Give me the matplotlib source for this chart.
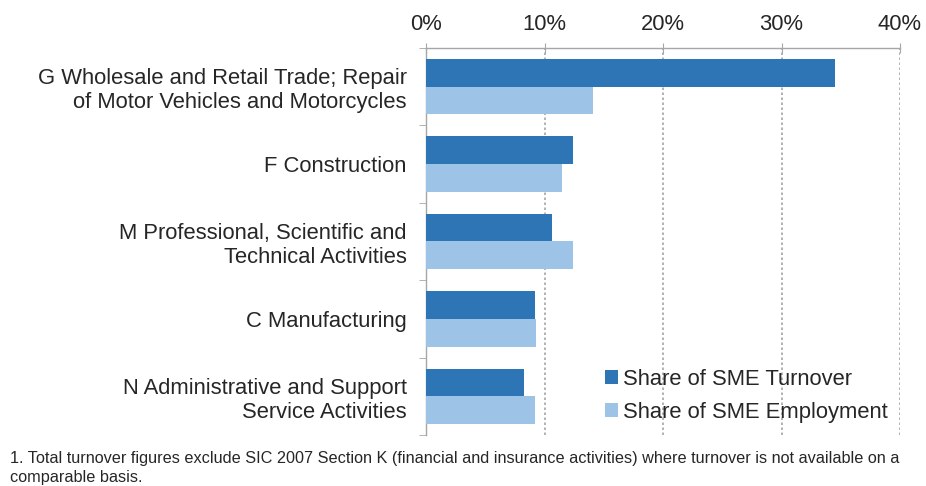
import matplotlib.pyplot as plt
import numpy as np

plt.rcParams['font.family'] = ['Liberation Sans', 'DejaVu Sans']

# Share by industry section (%)
sectors = [
    'G Wholesale and Retail Trade; Repair\nof Motor Vehicles and Motorcycles',
    'F Construction',
    'M Professional, Scientific and\nTechnical Activities',
    'C Manufacturing',
    'N Administrative and Support\nService Activities',
]
turnover = [34.5, 12.4, 10.6, 9.2, 8.3]
employment = [14.1, 11.5, 12.4, 9.3, 9.2]
xticks = [0, 10, 20, 30, 40]
footnote = ('1. Total turnover figures exclude SIC 2007 Section K (financial and insurance activities) '
            'where turnover is not available on a\ncomparable basis.')

dark = '#2E75B6'
light = '#9DC3E6'
text_col = '#262626'
axis_col = '#A6A6A6'
fs = 15.8

fig = plt.figure(figsize=(9.26, 4.86), dpi=100)
ax = fig.add_axes([426 / 926, 1 - 435 / 486, (900 - 426) / 926, (435 - 48) / 486])

y = np.arange(len(sectors))
h = 0.358
ax.barh(y - h / 2, turnover, h, color=dark, label='Share of SME Turnover', zorder=3)
ax.barh(y + h / 2, employment, h, color=light, label='Share of SME Employment', zorder=3)

ax.set_ylim(len(sectors) - 0.5, -0.5)
ax.set_xlim(0, 40)

ax.xaxis.tick_top()
ax.set_xticks(xticks)
ax.set_xticklabels([f'{v}%' for v in xticks], fontsize=fs, color=text_col)
ax.tick_params(axis='x', direction='inout', length=7, color=axis_col, pad=6)

ax.set_yticks(y)
ax.set_yticklabels(sectors, fontsize=fs, color=text_col, linespacing=1.18)
ax.set_yticks(np.arange(len(sectors) + 1) - 0.5, minor=True)
ax.tick_params(axis='y', which='major', length=0, pad=14)
ax.tick_params(axis='y', which='minor', length=5, color=axis_col, direction='out')

ax.grid(axis='x', linestyle=(0, (1.5, 1.5)), color='#A6A6A6', linewidth=1.2, zorder=0)
for side in ['right', 'bottom']:
    ax.spines[side].set_visible(False)
for side in ['top', 'left']:
    ax.spines[side].set_color(axis_col)
    ax.spines[side].set_linewidth(1.0)

leg = ax.legend(loc='lower right', bbox_to_anchor=(1.0, 0.0), frameon=False, fontsize=fs,
                handlelength=0.6, handleheight=0.6, handletextpad=0.25, labelspacing=0.55,
                borderaxespad=0.15)
for t in leg.get_texts():
    t.set_color(text_col)

fig.text(10 / 926, 1 - 468 / 486, footnote, fontsize=11.7, color=text_col,
         va='center', ha='left', linespacing=1.3)

fig.savefig('out.png', dpi=100)
